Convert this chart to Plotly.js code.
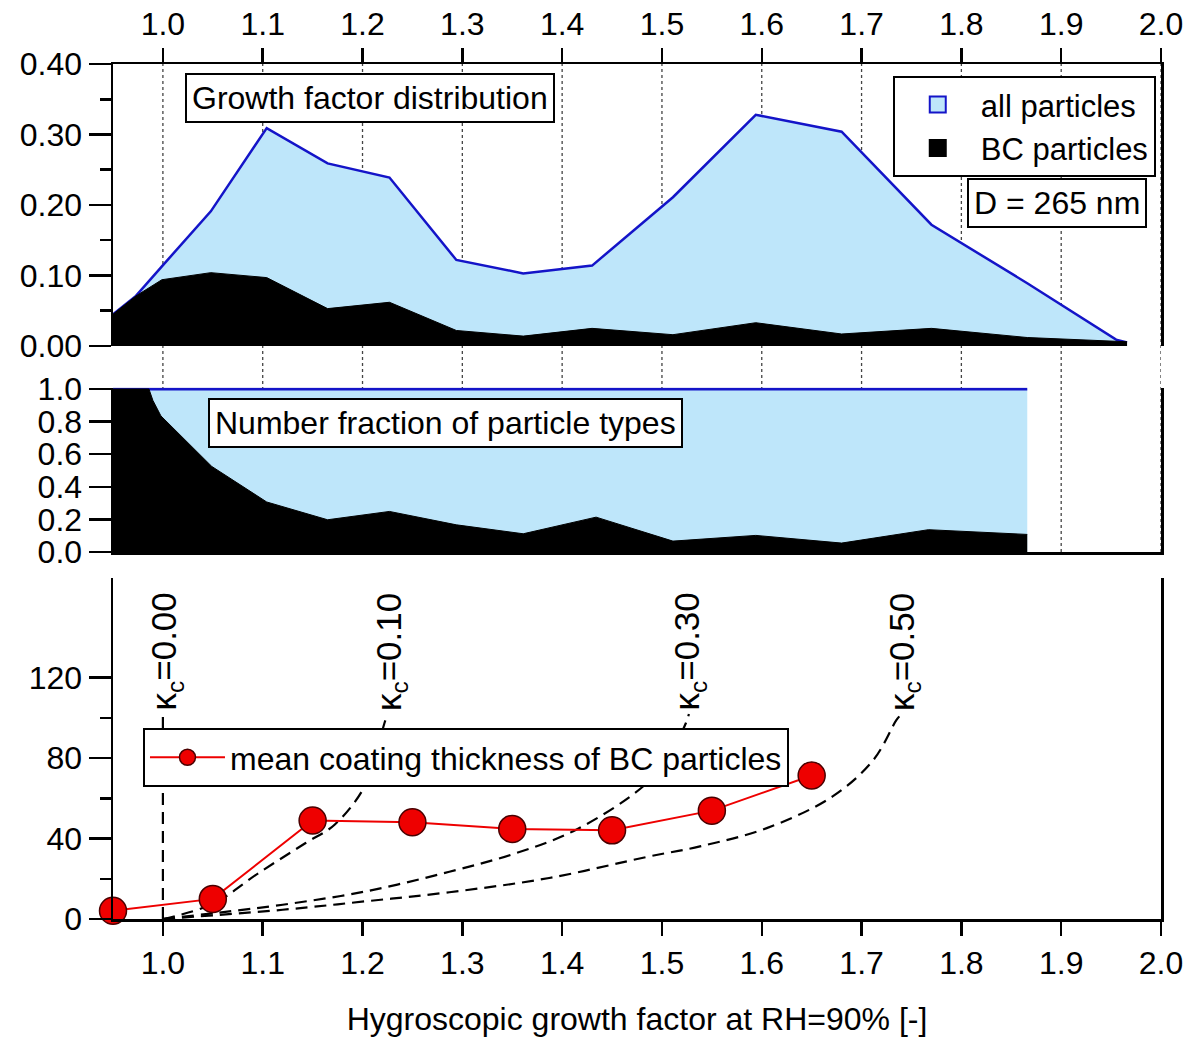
<!DOCTYPE html>
<html>
<head>
<meta charset="utf-8">
<script src="https://cdn.plot.ly/plotly-3.0.1.min.js"></script>
<style>html,body{margin:0;padding:0;background:#fff;}#chart{width:1187px;height:1037px;}</style>
</head>
<body>
<div id="chart"></div>
<script>
// ---- Top panel: growth factor distribution ----
const gfX          = [0.950, 0.973, 0.999, 1.048, 1.104, 1.165, 1.227, 1.294, 1.361, 1.430, 1.511, 1.594, 1.680, 1.770, 1.866, 1.955, 1.966];
const allParticles = [0.045, 0.071, 0.113, 0.191, 0.309, 0.259, 0.239, 0.122, 0.103, 0.114, 0.211, 0.328, 0.304, 0.172, 0.089, 0.009, 0.005];
const bcParticles  = [0.045, 0.071, 0.094, 0.104, 0.097, 0.053, 0.062, 0.022, 0.014, 0.025, 0.016, 0.033, 0.017, 0.025, 0.012, 0.007, 0.006];

// ---- Middle panel: number fraction of particle types ----
const fracX   = [0.950, 0.986, 0.990, 0.998, 1.049, 1.104, 1.165, 1.227, 1.294, 1.361, 1.434, 1.511, 1.594, 1.680, 1.767, 1.866];
const fracAll = [1, 1, 1, 1, 1, 1, 1, 1, 1, 1, 1, 1, 1, 1, 1, 1];
const fracBC  = [1.0, 1.0, 0.93, 0.835, 0.525, 0.307, 0.198, 0.249, 0.167, 0.112, 0.214, 0.067, 0.102, 0.055, 0.137, 0.108];

// ---- Bottom panel: mean coating thickness ----
const gfMean    = [0.95, 1.05, 1.15, 1.25, 1.35, 1.45, 1.55, 1.65];
const coatThick = [4.1, 10.0, 49.0, 48.1, 44.8, 44.1, 53.9, 71.4];

// kappa_c reference curves
const k00X = [1.0, 1.0];
const k00Y = [0, 102];
const k10X = [1.0, 1.05, 1.096, 1.143, 1.172, 1.203, 1.222, 1.225];
const k10Y = [0, 7.5, 22.9, 37.8, 46.9, 66.8, 97.5, 102];
const k30X = [1.0, 1.053, 1.12, 1.203, 1.287, 1.354, 1.414, 1.481, 1.506, 1.524, 1.527];
const k30Y = [0, 3.0, 7.1, 13.7, 23.5, 32.8, 44.4, 65.9, 80.0, 97.5, 102];
const k50X = [1.0, 1.12, 1.203, 1.287, 1.387, 1.487, 1.538, 1.605, 1.671, 1.712, 1.735, 1.740];
const k50Y = [0, 4.6, 8.8, 13.3, 20.4, 31.1, 36.1, 45.2, 61.0, 79.2, 99.0, 102];
const kappaLabels = ['0.00', '0.10', '0.30', '0.50'];
const kappaLabelX = [1.003, 1.228, 1.527, 1.742];

const tickVals = [1.0, 1.1, 1.2, 1.3, 1.4, 1.5, 1.6, 1.7, 1.8, 1.9, 2.0];

const FONT = 'Liberation Sans, Arial, sans-serif';
const LIGHT = '#bee6fa';
const BLUE = '#1414c8';
const LW = 2.5;

const traces = [
  // top panel
  {x: gfX, y: allParticles, xaxis: 'x3', yaxis: 'y3', type: 'scatter', mode: 'lines',
   fill: 'tozeroy', fillcolor: LIGHT, line: {color: BLUE, width: 2.5}, showlegend: false, hoverinfo: 'skip'},
  {x: gfX, y: bcParticles, xaxis: 'x3', yaxis: 'y3', type: 'scatter', mode: 'lines',
   fill: 'tozeroy', fillcolor: '#000', line: {color: '#000', width: 1}, showlegend: false, hoverinfo: 'skip'},
  // legend proxies
  {x: [null], y: [null], xaxis: 'x3', yaxis: 'y3', type: 'scatter', mode: 'markers', name: 'all particles',
   marker: {symbol: 'square', size: 16, color: LIGHT, line: {color: BLUE, width: 2}}, legend: 'legend'},
  {x: [null], y: [null], xaxis: 'x3', yaxis: 'y3', type: 'scatter', mode: 'markers', name: 'BC particles',
   marker: {symbol: 'square', size: 16, color: '#000', line: {color: '#000', width: 2}}, legend: 'legend'},
  // middle panel
  {x: fracX, y: fracAll, xaxis: 'x2', yaxis: 'y2', type: 'scatter', mode: 'lines',
   fill: 'tozeroy', fillcolor: LIGHT, line: {color: BLUE, width: 3}, showlegend: false, hoverinfo: 'skip'},
  {x: fracX, y: fracBC, xaxis: 'x2', yaxis: 'y2', type: 'scatter', mode: 'lines',
   fill: 'tozeroy', fillcolor: '#000', line: {color: '#000', width: 1}, showlegend: false, hoverinfo: 'skip'},
  // bottom panel kappa curves
  {x: k00X, y: k00Y, type: 'scatter', mode: 'lines', line: {color: '#000', width: 2.2, dash: '12px,7px'}, showlegend: false},
  {x: k10X, y: k10Y, type: 'scatter', mode: 'lines', line: {color: '#000', width: 2.2, dash: '12px,7px', shape: 'spline'}, showlegend: false},
  {x: k30X, y: k30Y, type: 'scatter', mode: 'lines', line: {color: '#000', width: 2.2, dash: '12px,7px', shape: 'spline'}, showlegend: false},
  {x: k50X, y: k50Y, type: 'scatter', mode: 'lines', line: {color: '#000', width: 2.2, dash: '12px,7px', shape: 'spline'}, showlegend: false},
  // mean coating thickness
  {x: gfMean, y: coatThick, type: 'scatter', mode: 'lines+markers', name: 'mean coating thickness of BC particles',
   line: {color: '#ee0000', width: 2}, marker: {size: 27, color: '#ee0000', line: {color: '#4a0000', width: 1.5}},
   legend: 'legend2', cliponaxis: false}
];

// gridline shapes (dotted, spanning top + middle panels)
const shapes = tickVals.map(v => ({
  type: 'line', xref: 'x', yref: 'paper', x0: v, x1: v, y0: 0.4292, y1: 1.0,
  line: {color: '#444', width: 1.3, dash: 'dot'}, layer: 'below'
}));

const boxText = (text, x, y, xref, yref) => ({
  text: text, x: x, y: y, xref: xref, yref: yref, showarrow: false,
  font: {family: FONT, size: 32, color: '#000'}, bgcolor: '#fff',
  bordercolor: '#000', borderwidth: 2, borderpad: 5, xanchor: 'center', yanchor: 'middle'
});

const annotations = [
  boxText('Growth factor distribution', 1.2075, 0.352, 'x3', 'y3'),
  boxText('D = 265 nm', 1.8958, 0.2028, 'x3', 'y3'),
  boxText('Number fraction of particle types', 1.2836, 0.791, 'x2', 'y2')
];
kappaLabels.forEach((lab, i) => {
  annotations.push({
    text: 'κ<sub>c</sub>=' + lab, x: kappaLabelX[i], y: 133.0, xref: 'x', yref: 'y',
    showarrow: false, textangle: -90, font: {family: FONT, size: 35, color: '#000'},
    xanchor: 'center', yanchor: 'middle'
  });
});

const xCommon = {
  range: [0.95, 2.0], tickvals: tickVals, tickformat: '.1f', showgrid: false, zeroline: false,
  linecolor: '#000', linewidth: LW, tickcolor: '#000', tickwidth: LW,
  tickfont: {family: FONT, size: 32, color: '#000'}
};

const layout = {
  width: 1187, height: 1037,
  margin: {l: 113, r: 26, t: 64, b: 118},
  paper_bgcolor: '#fff', plot_bgcolor: 'rgba(0,0,0,0)',
  font: {family: FONT, size: 32, color: '#000'},
  showlegend: true,
  xaxis: Object.assign({}, xCommon, {
    anchor: 'y', domain: [0, 1], showline: true, mirror: false, ticks: 'outside', ticklen: 14,
    title: {text: 'Hygroscopic growth factor at RH=90% [-]', font: {family: FONT, size: 32, color: '#000'}, standoff: 30}
  }),
  yaxis: {
    domain: [0, 0.3988], range: [0, 169.6], anchor: 'x',
    tickvals: [0, 40, 80, 120], ticks: 'outside', ticklen: 22, tickwidth: LW, tickcolor: '#000',
    minor: {tickvals: [20, 60, 100], ticks: 'outside', ticklen: 11, tickwidth: LW, tickcolor: '#000', showgrid: false},
    showline: true, mirror: true, linecolor: '#000', linewidth: LW, showgrid: false, zeroline: false,
    tickfont: {family: FONT, size: 32, color: '#000'}
  },
  xaxis2: Object.assign({}, xCommon, {
    anchor: 'y2', domain: [0, 1], showline: true, mirror: false, ticks: '', showticklabels: false
  }),
  yaxis2: {
    domain: [0.4292, 0.6214], range: [0, 1.008], anchor: 'x2',
    tickvals: [0, 0.2, 0.4, 0.6, 0.8, 1.0], tickformat: '.1f', ticks: 'outside', ticklen: 22, tickwidth: LW, tickcolor: '#000',
    showline: true, mirror: true, linecolor: '#000', linewidth: LW, showgrid: false, zeroline: false,
    tickfont: {family: FONT, size: 32, color: '#000'}
  },
  xaxis3: Object.assign({}, xCommon, {
    anchor: 'y3', domain: [0, 1], side: 'top', showline: true, mirror: false, ticks: 'outside', ticklen: 14
  }),
  yaxis3: {
    domain: [0.6702, 1], range: [0, 0.40], anchor: 'x3',
    tickvals: [0, 0.1, 0.2, 0.3, 0.4], tickformat: '.2f', ticks: 'outside', ticklen: 22, tickwidth: LW, tickcolor: '#000',
    minor: {tickvals: [0.05, 0.15, 0.25, 0.35], ticks: 'outside', ticklen: 11, tickwidth: LW, tickcolor: '#000', showgrid: false},
    showline: true, mirror: true, linecolor: '#000', linewidth: LW, showgrid: false, zeroline: false,
    tickfont: {family: FONT, size: 32, color: '#000'}
  },
  legend: {
    x: 0.995, y: 0.986, xanchor: 'right', yanchor: 'top', xref: 'paper', yref: 'paper',
    bgcolor: '#fff', bordercolor: '#000', borderwidth: 2, itemwidth: 76,
    font: {family: FONT, size: 31, color: '#000'}, tracegroupgap: 0
  },
  legend2: {
    x: 0.0286, y: 0.2234, xanchor: 'left', yanchor: 'top', xref: 'paper', yref: 'paper',
    bgcolor: '#fff', bordercolor: '#000', borderwidth: 2, itemwidth: 75,
    font: {family: FONT, size: 32, color: '#000'}
  },
  shapes: shapes,
  annotations: annotations
};

Plotly.newPlot('chart', traces, layout, {displayModeBar: false, staticPlot: true});
</script>
</body>
</html>
